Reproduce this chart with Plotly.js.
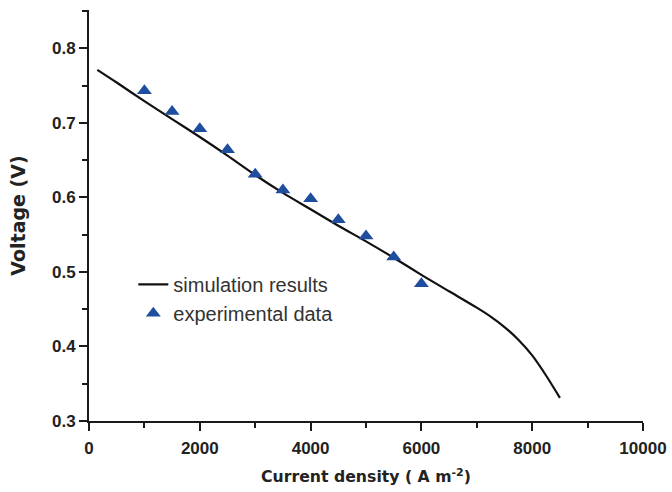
<!DOCTYPE html>
<html>
<head>
<meta charset="utf-8">
<script src="https://cdn.plot.ly/plotly-3.0.1.min.js"></script>
<style>html,body{margin:0;padding:0;background:#fff;}#chart{width:672px;height:492px;}</style>
</head>
<body>
<div id="chart"></div>
<script>
// Simulation curve (current density A m^-2, voltage V)
const simCurrent = [150, 500, 1000, 1500, 2000, 2500, 3000, 3500, 4000, 4500, 5000, 5500, 6000, 6500, 7000, 7250, 7500, 7750, 8000, 8250, 8500];
const simVoltage = [0.771, 0.754, 0.729, 0.705, 0.681, 0.656, 0.630, 0.606, 0.584, 0.562, 0.541, 0.519, 0.496, 0.474, 0.452, 0.440, 0.426, 0.409, 0.388, 0.361, 0.331];
// Experimental data
const expCurrent = [1000, 1500, 2000, 2500, 3000, 3500, 4000, 4500, 5000, 5500, 6000];
const expVoltage = [0.743, 0.715, 0.692, 0.664, 0.631, 0.610, 0.598, 0.570, 0.548, 0.520, 0.484];
// Axis ticks
const xTicks = [0, 2000, 4000, 6000, 8000, 10000];
const yTicks = [0.3, 0.4, 0.5, 0.6, 0.7, 0.8];

const axisColor = '#1a1a1a';
const titleFamily = 'DejaVu Sans, Liberation Sans, sans-serif';
const traces = [
  {x: simCurrent, y: simVoltage, type: 'scatter', mode: 'lines', name: 'simulation results',
   line: {color: '#111111', width: 2.2, shape: 'spline', smoothing: 0.8}},
  {x: expCurrent, y: expVoltage, type: 'scatter', mode: 'markers', name: 'experimental data',
   marker: {symbol: 'triangle-up', size: 13, color: '#1f4e9f', line: {width: 0}}}
];
const layout = {
  width: 672, height: 492,
  margin: {l: 88.5, r: 28.5, t: 10, b: 70.5},
  paper_bgcolor: '#ffffff', plot_bgcolor: '#ffffff',
  font: {family: 'Liberation Sans, Arial, sans-serif', color: '#222222'},
  showlegend: true,
  legend: {x: 0.08, y: 0.38, xanchor: 'left', yanchor: 'top', bgcolor: 'rgba(0,0,0,0)',
    font: {size: 20, color: '#333333'}, tracegroupgap: 0},
  xaxis: {range: [0, 10000], tickvals: xTicks, ticktext: xTicks.map(String),
    showline: true, linecolor: axisColor, linewidth: 2, showgrid: false, zeroline: false,
    ticks: 'outside', ticklen: 8, tickwidth: 2, tickcolor: axisColor, ticklabelstandoff: 3,
    minor: {ticks: 'outside', dtick: 1000, tick0: 0, ticklen: 5, tickwidth: 2, tickcolor: axisColor, showgrid: false},
    tickfont: {size: 17, color: '#222222', weight: 'bold'},
    title: {text: 'Current density ( A m<sup>-2</sup>)', font: {family: titleFamily, size: 15.7, weight: 'bold', color: '#222222'}, standoff: 14}},
  yaxis: {range: [0.3, 0.8513], tickvals: yTicks, ticktext: yTicks.map(v => v.toFixed(1)),
    showline: true, linecolor: axisColor, linewidth: 2, showgrid: false, zeroline: false,
    ticks: 'outside', ticklen: 8, tickwidth: 2, tickcolor: axisColor,
    minor: {ticks: 'outside', dtick: 0.05, tick0: 0.3, ticklen: 5, tickwidth: 2, tickcolor: axisColor, showgrid: false},
    tickfont: {size: 17, color: '#222222', weight: 'bold'},
    title: {text: 'Voltage (V)', font: {family: titleFamily, size: 19, weight: 'bold', color: '#222222'}, standoff: 21}}
};
Plotly.newPlot('chart', traces, layout, {displayModeBar: false, staticPlot: true});
</script>
</body>
</html>
